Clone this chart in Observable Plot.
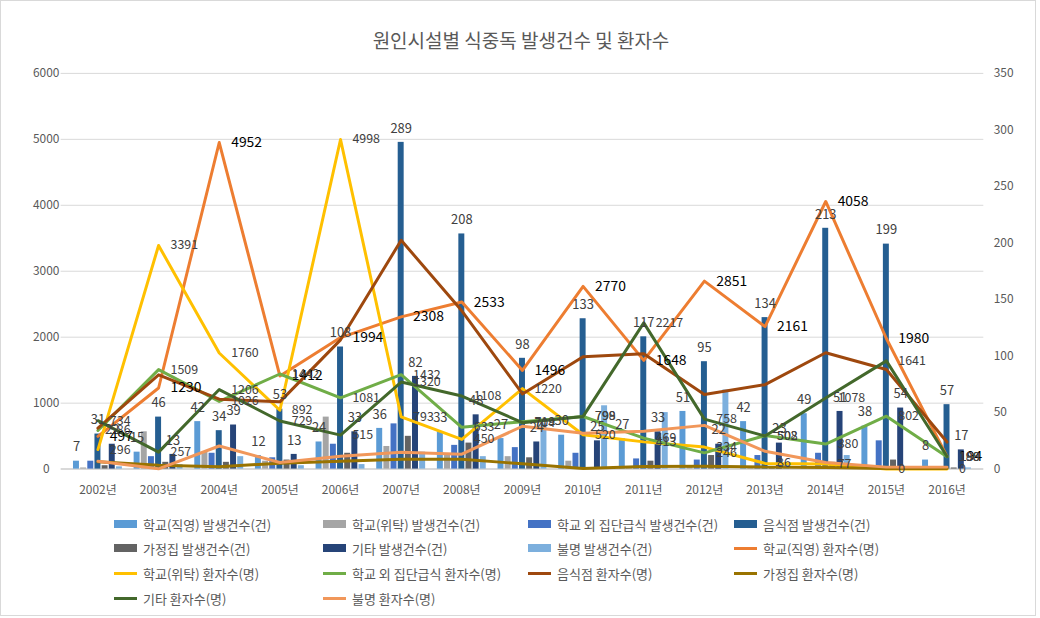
<!DOCTYPE html>
<html><head><meta charset="utf-8">
<script src="https://cdn.jsdelivr.net/npm/d3@7"></script>
<script src="https://cdn.jsdelivr.net/npm/@observablehq/plot@0.6"></script>
<style>
body{margin:0;background:#fff;font-family:"Noto Sans CJK KR","Noto Sans",sans-serif;}
#wrap{position:relative;width:1036px;height:616px;border:1px solid #D9D9D9;box-sizing:border-box;overflow:hidden;}
#title{position:absolute;left:0;width:1040px;top:25px;text-align:center;font-size:19px;color:#595959;line-height:28px;}
#chart{position:absolute;left:0;top:55px;}
.lg{position:absolute;font-size:13px;color:#595959;display:flex;align-items:center;white-space:nowrap;height:20px;}
.sw{display:inline-block;width:23px;margin-right:6px;}
</style></head>
<body>
<div id="wrap">
<div id="title">원인시설별 식중독 발생건수 및 환자수</div>
<div id="chart"></div>
<div id="legend"></div>
</div>
<script>
const years = ["2002년","2003년","2004년","2005년","2006년","2007년","2008년","2009년","2010년","2011년","2012년","2013년","2014년","2015년","2016년"];

// 발생건수 (right axis, 건)
const barNames = ["학교(직영) 발생건수(건)","학교(위탁) 발생건수(건)","학교 외 집단급식 발생건수(건)","음식점 발생건수(건)","가정집 발생건수(건)","기타 발생건수(건)","불명 발생건수(건)"];
const barColors = ["#5B9BD5","#A5A5A5","#4472C4","#255E91","#636363","#264478","#7CAFDD"];
const schoolDirectCases = [7,15,42,12,24,36,33,27,30,27,51,42,49,38,8];
const schoolContractCases = [1,33,15,7,46,20,13,11,7,1,2,1,1,0,0];
const groupMealCases = [7,11,14,10,22,40,21,19,14,9,8,12,14,25,1];
const restaurantCases = [31,46,34,53,108,289,208,98,133,117,95,134,213,199,57];
const homeCases = [3,6,6,8,14,29,23,10,1,7,12,2,6,8,1];
const otherCases = [22,13,39,13,33,82,48,24,25,33,22,23,51,54,17];
const unknownCases = [2,4,11,3,4,15,11,40,56,50,70,4,12,1,1];
const barValues = [schoolDirectCases,schoolContractCases,groupMealCases,restaurantCases,homeCases,otherCases,unknownCases];
const barLabeled = [true,false,false,true,false,true,false];

// 환자수 (left axis, 명)
const lineNames = ["학교(직영) 환자수(명)","학교(위탁) 환자수(명)","학교 외 집단급식 환자수(명)","음식점 환자수(명)","가정집 환자수(명)","기타 환자수(명)","불명 환자수(명)"];
const lineColors = ["#ED7D31","#FFC000","#70AD47","#9E480E","#997300","#43682B","#F1975A"];
const schoolDirectPatients = [497,1230,4952,1412,1994,2308,2533,1496,2770,1648,2851,2161,4058,1980,194];
const schoolContractPatients = [296,3391,1760,892,4998,793,450,1220,520,413,334,86,77,0,0];
const groupMealPatients = [586,1509,1026,1442,1081,1432,633,719,798,469,246,508,380,802,188];
const restaurantPatients = [620,1430,1060,1020,1960,3470,2400,1140,1704,1750,1130,1280,1765,1510,410];
const homePatients = [110,60,35,90,120,150,150,80,10,40,45,30,25,10,10];
const otherPatients = [734,257,1206,729,515,1320,1108,704,799,2217,758,502,1078,1641,190];
const unknownPatients = [120,5,350,100,196,255,226,650,543,573,663,270,100,30,30];
const lineValues = [schoolDirectPatients,schoolContractPatients,groupMealPatients,restaurantPatients,homePatients,otherPatients,unknownPatients];
const lineLabeled = [true,true,true,false,false,true,false];

const leftTicks = [0,1000,2000,3000,4000,5000,6000];
const rightTicks = [0,50,100,150,200,250,300,350];
const LEFT_MAX = 6000, RIGHT_MAX = 350;
const k = LEFT_MAX / RIGHT_MAX;

const rows = vals => years.map((y, j) => ({year: y, value: vals[j]}));

const marks = [
  Plot.gridY(leftTicks.slice(1), {stroke: "#D9D9D9", strokeOpacity: 1}),
  Plot.ruleY([0], {stroke: "#D9D9D9", strokeWidth: 2})
];
barValues.forEach((vals, i) => {
  marks.push(Plot.barY(rows(vals), {x: "year", y: d => d.value * k, fill: barColors[i], dx: (i - 3) * 7.2}));
});
lineValues.forEach((vals, i) => {
  marks.push(Plot.line(rows(vals), {x: "year", y: "value", stroke: lineColors[i], strokeWidth: 3, curve: "linear"}));
});
barValues.forEach((vals, i) => {
  if (!barLabeled[i]) return;
  marks.push(Plot.text(rows(vals), {x: "year", y: d => d.value * k, text: d => String(d.value), dx: (i - 3) * 7.2, dy: -14, fill: "#404040", fontSize: 13}));
});
lineValues.forEach((vals, i) => {
  if (!lineLabeled[i]) return;
  marks.push(Plot.text(rows(vals), {x: "year", y: "value", text: d => String(d.value), dx: 12, textAnchor: "start",
    fill: i === 0 ? "#000000" : "#404040", fontSize: i === 0 ? 14 : 12.5}));
});
marks.push(Plot.axisY(leftTicks, {anchor: "left", tickSize: 0, tickPadding: 15, textAnchor: "middle", fontSize: 12, tickFormat: d => String(d)}));
marks.push(Plot.axisY(rightTicks.map(v => v * k), {anchor: "right", tickSize: 0, tickPadding: 10, tickFormat: d => String(Math.round(d / k)), fontSize: 12}));
marks.push(Plot.axisX({tickSize: 0, tickPadding: 17, fontSize: 12}));

const chart = Plot.plot({
  width: 1040,
  height: 455,
  marginTop: 17,
  marginBottom: 40,
  marginLeft: 60,
  marginRight: 52,
  style: {fontFamily: "'Noto Sans CJK KR', 'Noto Sans', sans-serif", color: "#595959", background: "transparent", fontSize: "12px"},
  x: {type: "band", domain: years, paddingInner: 0.903, paddingOuter: 0.444, label: null},
  y: {domain: [0, LEFT_MAX], label: null},
  marks
});
document.getElementById("chart").appendChild(chart);

// legend
const legendItems = [];
barNames.forEach((n, i) => legendItems.push({name: n, color: barColors[i], type: "bar"}));
lineNames.forEach((n, i) => legendItems.push({name: n, color: lineColors[i], type: "line"}));
const colX = [113, 322, 527, 733];
const rowY = [523, 547, 572, 597];
const lg = document.getElementById("legend");
legendItems.forEach((it, idx) => {
  const r = Math.floor(idx / 4), c = idx % 4;
  const el = document.createElement("div");
  el.className = "lg";
  el.style.left = colX[c] + "px";
  el.style.top = (rowY[r] - 10) + "px";
  const sw = document.createElement("span");
  sw.className = "sw";
  sw.style.background = it.color;
  sw.style.height = it.type === "bar" ? "8px" : "3px";
  el.appendChild(sw);
  el.appendChild(document.createTextNode(it.name));
  lg.appendChild(el);
});
</script>
</body></html>
